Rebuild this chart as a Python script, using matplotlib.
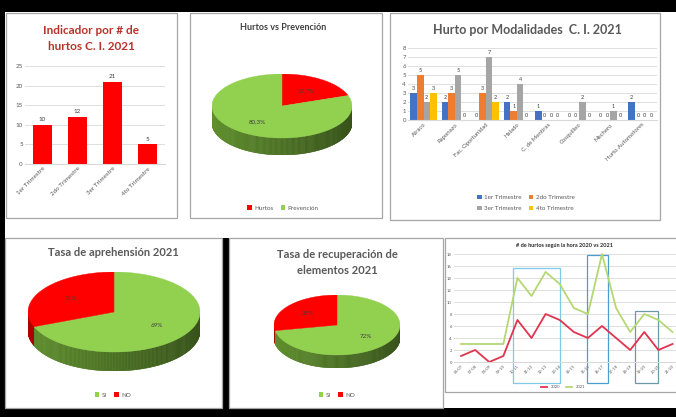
import numpy as np
import matplotlib
matplotlib.use("Agg")
import matplotlib.pyplot as plt
from matplotlib.patches import Rectangle, Polygon, Patch
from matplotlib.collections import PolyCollection
from matplotlib.colors import to_rgb

plt.rcParams['font.family'] = ['Lato', 'DejaVu Sans']

# ---- data ----
trimestres = ["1er Trimestre", "2do Trimestre", "3er Trimestre", "4to Trimestre"]
hurtos_trim = [10, 12, 21, 5]

prev_labels = ["Hurtos", "Prevención"]
prev_values = [19.7, 80.3]

modalidades = ["Atraco", "Raponazo", "Fac. Oportunidad", "Halado", "C. de Mentiras",
               "Cosquilleo", "Mechero", "Hurto Automotores"]
mod_1er = [3, 2, 0, 2, 1, 0, 0, 2]
mod_2do = [5, 3, 3, 1, 0, 0, 0, 0]
mod_3er = [2, 5, 7, 4, 0, 2, 1, 0]
mod_4to = [3, 0, 2, 0, 0, 0, 0, 0]

si_no = ["SI", "NO"]
aprehension = [69, 31]
recuperacion = [72, 28]

horas = ["06-07", "07-08", "08-09", "09-10", "10-11", "11-12", "12-13", "13-14",
         "14-15", "15-16", "16-17", "17-18", "18-19", "19-20", "20-21", "21-22"]
hora_2020 = [1, 2, 0, 1, 7, 4, 8, 7, 5, 4, 6, 4, 2, 5, 2, 3]
hora_2021 = [3, 3, 3, 3, 14, 11, 15, 13, 9, 8, 18, 9, 5, 8, 7, 5]
# hand-drawn highlight boxes on the hour chart: (x from, x to, top)
resaltes = [(3.7, 7.05, 15.7), (8.95, 10.4, 17.9), (12.35, 13.95, 8.5)]

W, H = 676, 417
fig = plt.figure(figsize=(W / 100, H / 100), dpi=100, facecolor='black')


def fbox(x0, y0, x1, y1):
    return [x0 / W, 1 - y1 / H, (x1 - x0) / W, (y1 - y0) / H]


def frect(x0, y0, x1, y1, **kw):
    fig.add_artist(Rectangle((x0 / W, 1 - y1 / H), (x1 - x0) / W, (y1 - y0) / H,
                             transform=fig.transFigure, **kw))


def ftext(x, y, s, **kw):
    fig.text(x / W, 1 - y / H, s, ha='center', va='center', **kw)


# backdrop and panels
frect(5, 12, 676, 408, fc='white', ec='none', zorder=-3)
frect(222, 238, 229, 408, fc='black', ec='none', zorder=-2)
for pb in [(6, 13, 177, 218), (190, 13, 382, 218), (390, 13, 660, 220),
           (5, 238, 222, 408), (229, 238, 443, 408), (445, 238, 690, 392)]:
    frect(*pb, fc='white', ec='#A6A6A6', lw=0.9, zorder=-1)

TXT = '#595959'
GRID = '#D9D9D9'


def style_axis(ax, size):
    for s in ax.spines.values():
        s.set_visible(False)
    ax.spines['bottom'].set_visible(True)
    ax.spines['bottom'].set_color(GRID)
    ax.tick_params(length=0, labelsize=size, colors=TXT, pad=1.5)
    ax.grid(axis='y', color=GRID, lw=0.6)
    ax.set_axisbelow(True)
    ax.set_facecolor('none')


# ---- 1: hurtos por trimestre ----
ax1 = fig.add_axes(fbox(25, 66, 165, 164))
x1 = np.arange(len(trimestres))
b1 = ax1.bar(x1, hurtos_trim, width=0.55, color='#FF0000')
ax1.bar_label(b1, padding=2, fontsize=4.5, color='#404040')
ax1.set_xlim(-0.5, 3.5)
ax1.set_ylim(0, 25)
ax1.set_yticks(range(0, 26, 5))
ax1.set_xticks(x1)
ax1.set_xticklabels(trimestres, rotation=45, ha='right', rotation_mode='anchor')
style_axis(ax1, 4.5)
ftext(91, 30, "Indicador por # de", fontsize=8.5, fontweight='bold', color='#B8322A')
ftext(91, 47, "hurtos C. I. 2021", fontsize=8.5, fontweight='bold', color='#B8322A')


# ---- 3D pies ----
def pie3d(ax, values, colors, sides, depth, start=90):
    vals = np.asarray(values, float)
    spans = 360 * vals / vals.sum()
    cum = np.cumsum(spans)
    edges = start - np.concatenate([[0], cum])
    polys, fcs = [], []
    for t in np.arange(180, 360, 1.0):
        tm = t + 0.5
        k = min(np.searchsorted(cum, (start - tm) % 360, side='right'), len(vals) - 1)
        a, b = np.radians(t), np.radians(t + 1.05)
        polys.append([(np.cos(a), np.sin(a)), (np.cos(b), np.sin(b)),
                      (np.cos(b), np.sin(b) - depth), (np.cos(a), np.sin(a) - depth)])
        shade = 1.0 - 0.42 * (np.cos(np.radians(tm)) + 1) / 2
        fcs.append(np.clip(np.array(to_rgb(sides[k])) * shade, 0, 1))
    ax.add_collection(PolyCollection(polys, facecolors=fcs, edgecolors=fcs, linewidths=0.4))
    for k in range(len(vals)):
        th = np.radians(np.linspace(edges[k], edges[k + 1], 120))
        pts = np.column_stack([np.r_[0, np.cos(th)], np.r_[0, np.sin(th)]])
        ax.add_patch(Polygon(pts, closed=True, fc=colors[k], ec=colors[k], lw=0.3))
        mid = np.radians((edges[k] + edges[k + 1]) / 2)
        lbl = f"{vals[k]:g}%".replace('.', ',')
        ax.text(0.6 * np.cos(mid), 0.6 * np.sin(mid), lbl, ha='center', va='center',
                fontsize=4.5, color='#404040')
    ax.set_xlim(-1, 1)
    ax.set_ylim(-1 - depth, 1)
    ax.axis('off')


RED, GREEN = '#FF0000', '#92D050'
RED_SIDE, GREEN_SIDE = '#B00000', '#5F8F2D'


def pie_legend(x, y, labels, colors):
    hs = [Patch(fc=c, ec='none') for c in colors]
    fig.legend(hs, labels, loc='center', bbox_to_anchor=(x / W, 1 - y / H), ncol=len(labels),
               fontsize=4.5, frameon=False, handlelength=0.7, handleheight=0.7,
               handletextpad=0.4, columnspacing=1.2, labelcolor=TXT)


# ---- 2: hurtos vs prevencion ----
ax2 = fig.add_axes(fbox(212, 74, 352, 155))
pie3d(ax2, prev_values, [RED, GREEN], [RED_SIDE, GREEN_SIDE], depth=17 / 32)
ftext(283, 27, "Hurtos vs Prevención", fontsize=6.5, fontweight='bold', color='#404040')
pie_legend(283, 208, prev_labels, [RED, GREEN])

# ---- 4: tasa de aprehension ----
ax4 = fig.add_axes(fbox(28, 272, 200, 371))
pie3d(ax4, aprehension, [GREEN, RED], [GREEN_SIDE, RED_SIDE], depth=19 / 40)
ftext(113, 253, "Tasa de aprehensión 2021", fontsize=8, fontweight='bold', color=TXT)
pie_legend(113, 395, si_no, [GREEN, RED])

# ---- 5: tasa de recuperacion ----
ax5 = fig.add_axes(fbox(274, 295, 400, 368))
pie3d(ax5, recuperacion, [GREEN, RED], [GREEN_SIDE, RED_SIDE], depth=13 / 30)
ftext(337, 254, "Tasa de recuperación de", fontsize=8, fontweight='bold', color=TXT)
ftext(337, 271, "elementos 2021", fontsize=8, fontweight='bold', color=TXT)
pie_legend(337, 395, si_no, [GREEN, RED])

# ---- 3: hurto por modalidades ----
ax3 = fig.add_axes(fbox(408, 48, 657, 120))
x3 = np.arange(len(modalidades))
series = [mod_1er, mod_2do, mod_3er, mod_4to]
colors3 = ['#4472C4', '#ED7D31', '#A5A5A5', '#FFC000']
bw = 0.21
handles3 = []
for i, (vals, c) in enumerate(zip(series, colors3)):
    bars = ax3.bar(x3 + (i - 1.5) * bw, vals, width=bw, color=c)
    ax3.bar_label(bars, padding=1.5, fontsize=4, color='#404040')
    handles3.append(bars)
ax3.set_xlim(-0.5, 7.5)
ax3.set_ylim(0, 8)
ax3.set_yticks(range(0, 9))
ax3.set_xticks(x3)
ax3.set_xticklabels(modalidades, rotation=45, ha='right', rotation_mode='anchor')
style_axis(ax3, 4.3)
ftext(527, 30, "Hurto por Modalidades  C. I. 2021", fontsize=9, fontweight='bold', color=TXT)
order = [0, 2, 1, 3]
fig.legend([handles3[i] for i in order], [trimestres[i] for i in order], loc='center',
           bbox_to_anchor=(526 / W, 1 - 203 / H), ncol=2, fontsize=4.5, frameon=False,
           handlelength=0.7, handleheight=0.7, handletextpad=0.4, columnspacing=1.2,
           labelspacing=0.9, labelcolor=TXT)

# ---- 6: hurtos segun la hora ----
ax6 = fig.add_axes(fbox(454, 254, 676, 362))
x6 = np.arange(len(horas))
l20, = ax6.plot(x6, hora_2020, color='#E0344F', lw=1.3, clip_on=False)
l21, = ax6.plot(x6, hora_2021, color='#B5D873', lw=1.3, clip_on=False)
box_cols = ['#7DCBE6', '#4A9FD0', '#6F97A8']
for (r0, r1, top), bc in zip(resaltes, box_cols):
    ax6.add_patch(Rectangle((r0, -3.5), r1 - r0, top + 3.5,
                            fill=False, ec=bc, lw=0.9, clip_on=False))
ax6.set_xlim(-0.5, 15.25)
ax6.set_ylim(0, 18)
ax6.set_yticks(range(0, 19, 2))
ax6.set_xticks(x6)
ax6.set_xticklabels(horas, rotation=45, ha='right', rotation_mode='anchor')
style_axis(ax6, 3)
ftext(565, 246, "# de hurtos según la hora 2020 vs 2021", fontsize=4, fontweight='bold',
      color='#262626')
fig.legend([l20, l21], ["2020", "2021"], loc='center', bbox_to_anchor=(563 / W, 1 - 387 / H),
           ncol=2, fontsize=3, frameon=False, handlelength=1.5, columnspacing=1.5,
           labelcolor=TXT)

fig.savefig('out.png', dpi=100, facecolor='black')
